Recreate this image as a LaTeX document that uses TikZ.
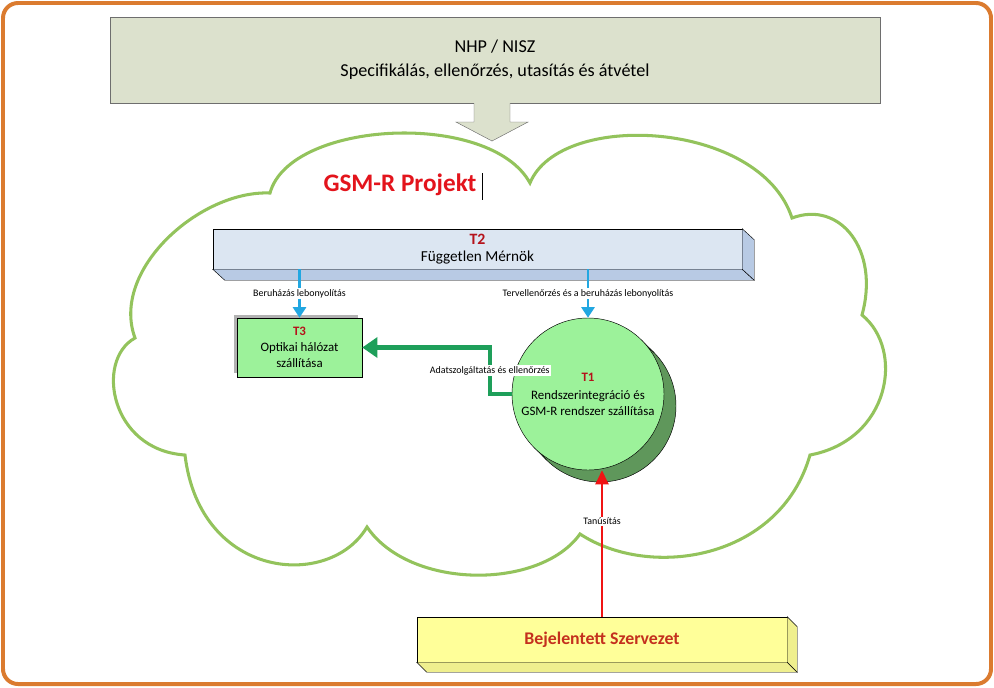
\documentclass[tikz,border=0pt]{standalone}
\usepackage{fontspec}
\setmainfont{Carlito}
\usetikzlibrary{arrows.meta,calc}
\definecolor{Frame}{HTML}{DB7B2F}
\definecolor{Sage}{HTML}{DCE1CD}
\definecolor{SageLine}{HTML}{6E6E6E}
\definecolor{Cloud}{HTML}{93C35C}
\definecolor{Title}{HTML}{E3141C}
\definecolor{Tag}{HTML}{B5121B}
\definecolor{Steel}{HTML}{DCE6F2}
\definecolor{SteelDark}{HTML}{B8CAE4}
\definecolor{Mint}{HTML}{9CF29A}
\definecolor{MintDark}{HTML}{5F975B}
\definecolor{Sky}{HTML}{22A7E1}
\definecolor{Leaf}{HTML}{1E9F5A}
\definecolor{Alarm}{HTML}{F01414}
\definecolor{Lemon}{HTML}{FFFF99}
\definecolor{LemonDark}{HTML}{EFEF8E}
\definecolor{Brick}{HTML}{C4301E}

\begin{document}
\begin{tikzpicture}[x=0.03cm, y=-0.03cm, every node/.style={font=\fontsize{11}{13.5}\selectfont}]
  \tikzstyle{box}=[draw=black, thin, inner sep=0pt, align=center]
  \tikzstyle{lbl}=[fill=white, text=black, inner sep=1pt, font=\fontsize{8.5}{10}\selectfont]
  \tikzstyle{skyarrow}=[-{Triangle[width=11pt, length=9pt]}, line width=2.4pt, color=Sky]
  \tikzstyle{leafarrow}=[-{Triangle[width=17pt, length=13pt]}, line width=3.5pt, color=Leaf]
  \tikzstyle{redarrow}=[-{Triangle[width=11pt, length=12pt]}, line width=2.4pt, color=Alarm]

  \useasboundingbox (0,0) rectangle (994,687);
  \draw[Frame, line width=3.4pt, rounded corners=0.45cm] (3,3) rectangle (991,684);

  \node[box, draw=SageLine, fill=Sage, minimum width=770*0.03cm, minimum height=86*0.03cm,
        font=\fontsize{15.5}{20.5}\selectfont] (nisz) at (495,60) {NHP / NISZ\\Specifikálás, ellenőrzés, utasítás és átvétel};

  \draw[Cloud, line width=2.6pt, fill=white] (270,193)
    .. controls (290,120) and (490,110) .. (530,183)
    .. controls (560,110) and (760,120) .. (792,218)
    .. controls (840,200) and (880,250) .. (862,315)
    .. controls (905,350) and (890,440) .. (810,455)
    .. controls (780,560) and (650,580) .. (580,534)
    .. controls (540,590) and (410,590) .. (367,527)
    .. controls (330,590) and (200,580) .. (185,455)
    .. controls (110,450) and (95,360) .. (135,338)
    .. controls (110,270) and (200,190) .. cycle;

  \draw[SageLine, fill=Sage] (474,103) -- (474,122) -- (456,122) -- (492,141) -- (528,122) -- (510,122) -- (510,103);

  \node[text=Title, font=\fontsize{21.5}{24}\selectfont\bfseries] (title) at (400,185) {GSM-R Projekt};
  \draw[black, line width=0.6pt] ($(title.east)+(2,-12)$) -- ($(title.east)+(2,15)$);

  \node[box, fill=Steel, minimum width=529*0.03cm, minimum height=40*0.03cm] (t2) at (477.5,249)
    {\textcolor{Tag}{\bfseries\fontsize{13.5}{15}\selectfont T2}\\[1pt]\fontsize{13}{15}\selectfont Független Mérnök};
  \draw[fill=SteelDark] (t2.south west) -- ($(t2.south west)+(12,11)$) -- ($(t2.south east)+(12,11)$) -- (t2.south east) -- cycle;
  \draw[fill=SteelDark] (t2.north east) -- ($(t2.north east)+(12,11)$) -- ($(t2.south east)+(12,11)$) -- (t2.south east) -- cycle;

  \fill[gray!60] (234,315) rectangle (358,373);
  \node[box, fill=Mint, minimum width=125*0.03cm, minimum height=59*0.03cm] (t3) at (299.5,347.5)
    {\textcolor{Tag}{\bfseries T3}\\Optikai hálózat\\szállítása};

  \coordinate (t1c) at (588,394);
  \fill[MintDark] ($(t1c)+(53.7,-53.7)$) -- ($(t1c)+(65.7,-41.7)$) -- ($(t1c)+(-41.7,65.7)$) -- ($(t1c)+(-53.7,53.7)$) -- cycle;
  \draw[fill=MintDark] ($(t1c)+(12,12)$) circle[radius=2.28cm];
  \draw ($(t1c)+(53.7,-53.7)$) -- ($(t1c)+(65.7,-41.7)$);
  \draw ($(t1c)+(-41.7,65.7)$) -- ($(t1c)+(-53.7,53.7)$);
  \node[box, circle, fill=Mint, minimum size=4.56cm] (t1) at (t1c)
    {\textcolor{Tag}{\bfseries T1}\\[2pt]Rendszerintegráció és\\GSM-R rendszer szállítása};

  \node[box, fill=Lemon, minimum width=370*0.03cm, minimum height=45*0.03cm,
        text=Brick, font=\fontsize{15.2}{18}\selectfont\bfseries] (be) at (602,639.5) {Bejelentett Szervezet};
  \draw[fill=LemonDark] (be.south west) -- ($(be.south west)+(10,10)$) -- ($(be.south east)+(10,10)$) -- (be.south east) -- cycle;
  \draw[fill=LemonDark] (be.north east) -- ($(be.north east)+(10,10)$) -- ($(be.south east)+(10,10)$) -- (be.south east) -- cycle;

  \draw[skyarrow] (t2.south -| t3.north) -- node[lbl] {Beruházás lebonyolítás} (t3.north);
  \draw[skyarrow] (t2.south -| t1.north) -- node[lbl] {Tervellenőrzés és a beruházás lebonyolítás} (t1.north);
  \draw[leafarrow] (t1.west) -- ++(-22,0) |- node[lbl, pos=0.25] {Adatszolgáltatás és ellenőrzés} (t3.east);
  \draw[redarrow] (be.north) -- node[lbl, pos=0.65] {Tanúsítás} (be.north |- t1.south);
\end{tikzpicture}
\end{document}
